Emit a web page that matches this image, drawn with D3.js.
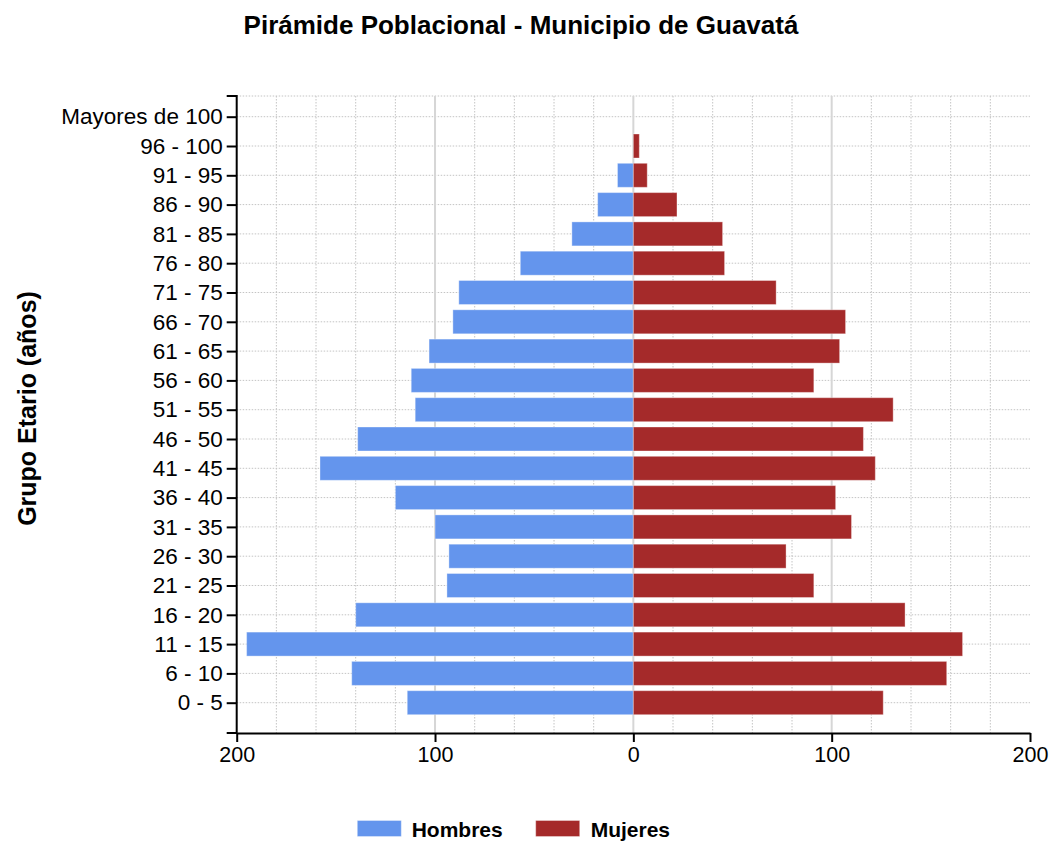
<!DOCTYPE html>
<html>
<head>
<meta charset="utf-8">
<script src="https://cdn.jsdelivr.net/npm/d3@7"></script>
<style>
  html, body { margin: 0; padding: 0; background: #fff; }
  svg { display: block; font-family: "Liberation Sans", Arial, sans-serif; }
</style>
</head>
<body>
<svg id="chart" width="1050" height="842"></svg>
<script>
// ---- data ----
const categories = ["0 - 5","6 - 10","11 - 15","16 - 20","21 - 25","26 - 30","31 - 35","36 - 40","41 - 45","46 - 50","51 - 55","56 - 60","61 - 65","66 - 70","71 - 75","76 - 80","81 - 85","86 - 90","91 - 95","96 - 100","Mayores de 100"];
const hombres = [114, 142, 195, 140, 94, 93, 100, 120, 158, 139, 110, 112, 103, 91, 88, 57, 31, 18, 8, 0, 0];
const mujeres = [126, 158, 166, 137, 91, 77, 110, 102, 122, 116, 131, 91, 104, 107, 72, 46, 45, 22, 7, 3, 0];
const xTicks = [-200, -100, 0, 100, 200];
const minorTicks = [-180,-160,-140,-120,-80,-60,-40,-20,20,40,60,80,120,140,160,180];
const majorGrid = [-100, 0, 100];
const seriesNames = ["Hombres", "Mujeres"];
const seriesColors = ["#6495ED", "#A52A2A"];
const titleText = "Pirámide Poblacional - Municipio de Guavatá";
const yTitle = "Grupo Etario (años)";

// ---- layout ----
const plotLeft = 236.7, plotRight = 1030, plotTop = 96, plotBottom = 733;
const svg = d3.select("#chart");

const x = d3.scaleLinear().domain([-200, 200]).range([plotLeft, plotRight]);
const y = d3.scalePoint().domain(categories).range([702.7, 116.7]);
const barH = 24;

// grid
const grid = svg.append("g");
grid.selectAll("line.hg").data(categories).join("line")
  .attr("x1", plotLeft).attr("x2", plotRight)
  .attr("y1", d => y(d)).attr("y2", d => y(d))
  .attr("stroke", "#c4c4c4").attr("stroke-width", 1).attr("stroke-dasharray", "1.5,1.5");
grid.append("line")
  .attr("x1", plotLeft).attr("x2", plotRight).attr("y1", plotTop).attr("y2", plotTop)
  .attr("stroke", "#c4c4c4").attr("stroke-width", 1).attr("stroke-dasharray", "1.5,1.5");
grid.selectAll("line.vg").data(minorTicks).join("line")
  .attr("x1", d => x(d)).attr("x2", d => x(d))
  .attr("y1", plotTop).attr("y2", plotBottom)
  .attr("stroke", "#c4c4c4").attr("stroke-width", 1).attr("stroke-dasharray", "1.5,1.5");
grid.selectAll("line.mg").data(majorGrid).join("line")
  .attr("x1", d => x(d)).attr("x2", d => x(d))
  .attr("y1", plotTop).attr("y2", plotBottom)
  .attr("stroke", "#d6d6d6").attr("stroke-width", 2);

// bars
const rows = categories.map((c, i) => ({ c, h: hombres[i], m: mujeres[i] }));
svg.append("g").selectAll("rect").data(rows.filter(d => d.h > 0)).join("rect")
  .attr("x", d => x(-d.h)).attr("width", d => x(0) - x(-d.h))
  .attr("y", d => y(d.c) - barH / 2).attr("height", barH)
  .attr("fill", seriesColors[0])
  .attr("stroke", "rgba(255,255,255,0.35)").attr("stroke-width", 1);
svg.append("g").selectAll("rect").data(rows.filter(d => d.m > 0)).join("rect")
  .attr("x", x(0)).attr("width", d => x(d.m) - x(0))
  .attr("y", d => y(d.c) - barH / 2).attr("height", barH)
  .attr("fill", seriesColors[1])
  .attr("stroke", "rgba(255,255,255,0.35)").attr("stroke-width", 1);

// y axis
const yAxis = svg.append("g").attr("transform", `translate(${plotLeft},0)`)
  .call(d3.axisLeft(y).tickSize(10).tickPadding(4));
yAxis.select(".domain").remove();
yAxis.selectAll(".tick line").attr("stroke", "#000").attr("stroke-width", 2);
yAxis.selectAll(".tick text").attr("font-size", "22.5px").attr("fill", "#000")
  .attr("font-family", "'Liberation Sans', Arial, sans-serif");
svg.append("path")
  .attr("d", `M${plotLeft - 10},${plotTop}H${plotLeft}V${plotBottom}H${plotLeft - 10}`)
  .attr("fill", "none").attr("stroke", "#000").attr("stroke-width", 2);

// x axis
const xAxis = svg.append("g").attr("transform", `translate(0,${plotBottom})`)
  .call(d3.axisBottom(x).tickValues(xTicks).tickFormat(d => Math.abs(d)).tickSize(9).tickSizeOuter(0).tickPadding(5));
xAxis.select(".domain").attr("stroke", "#000").attr("stroke-width", 2);
xAxis.selectAll(".tick line").attr("stroke", "#000").attr("stroke-width", 2);
xAxis.selectAll(".tick text").attr("font-size", "21.5px").attr("fill", "#000")
  .attr("font-family", "'Liberation Sans', Arial, sans-serif");

// title
svg.append("text").attr("x", 521).attr("y", 34).attr("text-anchor", "middle")
  .attr("font-size", "26px").attr("font-weight", "bold").attr("fill", "#000")
  .text(titleText);

// y title
svg.append("text").attr("transform", "translate(35.5,408.5) rotate(-90)")
  .attr("text-anchor", "middle").attr("font-size", "25px").attr("font-weight", "bold").attr("fill", "#000")
  .text(yTitle);

// legend
const legendPos = [{ sx: 357.3, tx: 411.7 }, { sx: 535.7, tx: 590.7 }];
const lg = svg.append("g");
seriesNames.forEach((n, i) => {
  lg.append("rect").attr("x", legendPos[i].sx).attr("y", 820.5).attr("width", 44).attr("height", 16)
    .attr("fill", seriesColors[i]).attr("stroke", "rgba(255,255,255,0.35)");
  lg.append("text").attr("x", legendPos[i].tx).attr("y", 837)
    .attr("font-size", "21px").attr("font-weight", "bold").attr("fill", "#000").text(n);
});
</script>
</body>
</html>
